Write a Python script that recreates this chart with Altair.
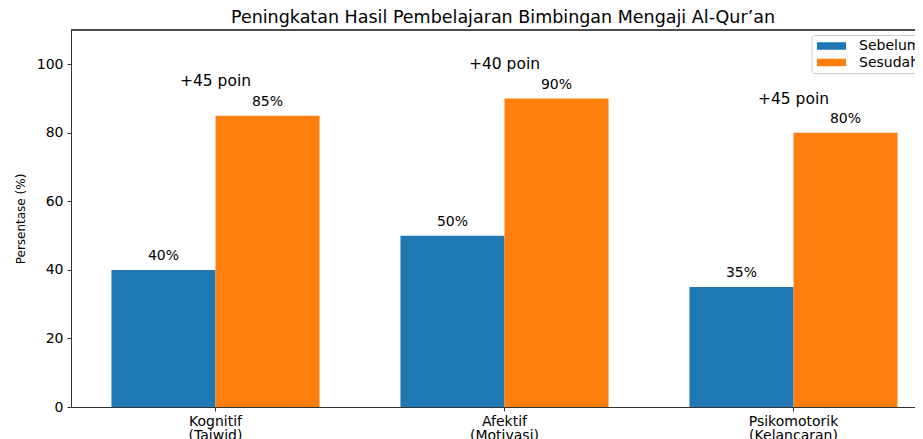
import altair as alt
import pandas as pd

kategori = ["Kognitif\n(Tajwid)", "Afektif\n(Motivasi)", "Psikomotorik\n(Kelancaran)"]
sebelum = [40, 50, 35]
sesudah = [85, 90, 80]
selisih = ["+45 poin", "+40 poin", "+45 poin"]
kondisi = ["Sebelum", "Sesudah"]
warna = ["#1f77b4", "#ff7f0e"]

rows = []
for k, a, b in zip(kategori, sebelum, sesudah):
    rows.append({"kategori": k, "kondisi": "Sebelum", "nilai": a, "label": f"{a}%"})
    rows.append({"kategori": k, "kondisi": "Sesudah", "nilai": b, "label": f"{b}%"})
df = pd.DataFrame(rows)
ann = pd.DataFrame({"kategori": kategori, "sesudah": sesudah, "teks": selisih})

FONT = "DejaVu Sans"

xscale = alt.Scale(range=[0, 867], paddingInner=0.28, paddingOuter=0.14)
yscale = alt.Scale(domain=[0, 110], nice=False)

x = alt.X("kategori:N", sort=kategori, scale=xscale,
          axis=alt.Axis(title=None, labelAngle=0, labelExpr="split(datum.label, '\\n')",
                        labelFontSize=14, labelColor="black", labelFont=FONT,
                        tickSize=4, tickColor="#333", domainColor="#333",
                        labelPadding=3, labelLineHeight=14))
y = alt.Y("nilai:Q", scale=yscale,
          axis=alt.Axis(title="Persentase (%)", values=[0, 20, 40, 60, 80, 100], grid=False,
                        labelFontSize=14, labelColor="black", labelFont=FONT,
                        tickSize=4, tickColor="#333", domainColor="#333",
                        labelPadding=4, titleFontSize=12, titleFontWeight="normal",
                        titleFont=FONT, titleColor="black", titlePadding=9))
xoff = alt.XOffset("kondisi:N", sort=kondisi, scale=alt.Scale(paddingInner=0, paddingOuter=0))

bars = alt.Chart(df).mark_bar().encode(
    x=x, xOffset=xoff, y=y,
    color=alt.Color("kondisi:N", sort=kondisi, scale=alt.Scale(domain=kondisi, range=warna),
                    legend=alt.Legend(title=None)),
)

labels = alt.Chart(df).transform_calculate(ypos="datum.nilai + 2").mark_text(
    baseline="bottom", fontSize=14, font=FONT, color="black"
).encode(x=alt.X("kategori:N", sort=kategori), xOffset=alt.XOffset("kondisi:N", sort=kondisi),
         y=alt.Y("ypos:Q"), text="label:N")

notes = alt.Chart(ann).transform_calculate(ypos="datum.sesudah + 10").mark_text(
    baseline="middle", fontSize=15.5, font=FONT, color="black"
).encode(x=alt.X("kategori:N", sort=kategori), y=alt.Y("ypos:Q"), text="teks:N")

top = alt.Chart(ann).mark_rule(color="#333", strokeWidth=1).encode(y=alt.datum(110))

chart = alt.layer(bars, labels, notes, top).properties(
    width=844, height=377,
    autosize=alt.AutoSizeParams(type="none"),
    padding={"left": 63, "top": 22, "right": 0, "bottom": 32},
    title=alt.TitleParams("Peningkatan Hasil Pembelajaran Bimbingan Mengaji Al-Qur’an",
                          fontSize=17.5, fontWeight="normal", font=FONT, color="black",
                          anchor="middle", dx=10, offset=3),
).configure_view(stroke=None).configure_legend(
    orient="none", legendX=740.5, legendY=5, fillColor="white", strokeColor="#cccccc",
    cornerRadius=3, padding=3.5, symbolType="M-2,-0.52H2V0.52H-2Z", symbolSize=210,
    symbolOffset=9, symbolStrokeWidth=0, labelFontSize=14, labelFont=FONT,
    labelColor="black", labelOffset=20, rowPadding=1.5,
)

chart.save("out.html", embed_options={"renderer": "svg", "actions": False})
